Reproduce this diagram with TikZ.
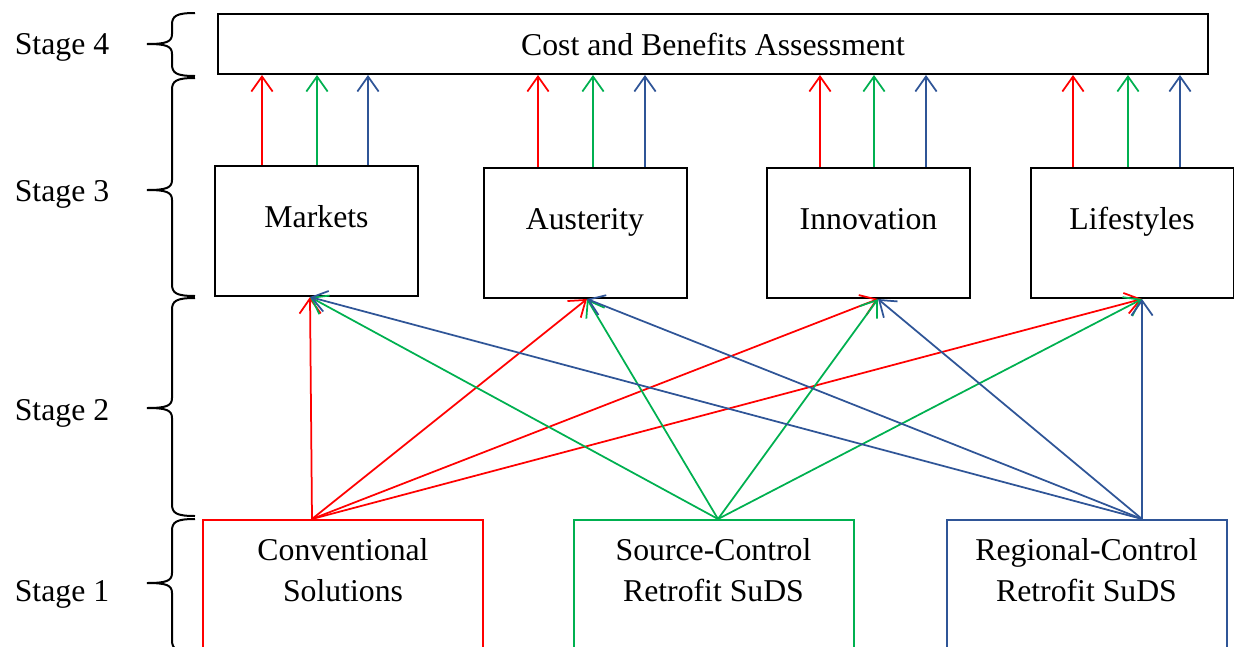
\documentclass[tikz,border=0pt]{standalone}
\usepackage{fontspec}
\setmainfont{Liberation Serif}
\usetikzlibrary{arrows.meta,positioning}

\definecolor{convred}{RGB}{255,0,0}
\definecolor{srcgreen}{RGB}{0,176,80}
\definecolor{regblue}{RGB}{47,85,151}

\tikzset{
  assessbox/.style={draw, line width=0.8pt, minimum width=396pt, minimum height=24pt},
  scenbox/.style={draw, line width=0.8pt, minimum width=81.2pt, minimum height=52pt,
    text height=8.5pt, text depth=11.3pt},
  solbox/.style={draw, line width=0.8pt, anchor=north, minimum width=112pt,
    align=center, inner ysep=7.3pt, text depth=60pt},
  flow/.style={line width=0.7pt, -{Straight Barb[length=6pt, width=8.5pt]}},
  stagebrace/.style={line width=0.8pt},
}

\begin{document}
\begin{tikzpicture}[x=0.4pt, y=-0.4pt, font=\fontsize{12.7pt}{16.4pt}\selectfont]

  \clip (0,0) rectangle (1234,647);

  % ── Stage 4: assessment ───────────────────────────────────────────────
  \node[assessbox] (assess) at (713,44) {Cost and Benefits Assessment};

  % ── Stage 3: scenarios ────────────────────────────────────────────────
  \node[scenbox] (markets)    at (316.5,231) {Markets};
  \node[scenbox] (austerity)  at (585,233)   {Austerity};
  \node[scenbox] (innovation) at (868.5,233) {Innovation};
  \node[scenbox] (lifestyles) at (1132,233)  {Lifestyles};

  % ── Stage 1: options ──────────────────────────────────────────────────
  \node[solbox, draw=convred]  (conv)     at (343,519)    {Conventional\\Solutions};
  \node[solbox, draw=srcgreen] (source)   at (713.5,519)  {Source-Control\\Retrofit SuDS};
  \node[solbox, draw=regblue]  (regional) at (1086.5,519) {Regional-Control\\Retrofit SuDS};

  % Arrow ends on the boxes
  \coordinate (conv-out) at (312,0 |- conv.north);
  \coordinate (src-out)  at (718,0 |- source.north);
  \coordinate (reg-out)  at (1142,0 |- regional.north);
  \coordinate (mk-in)  at (310,0 |- markets.south);
  \coordinate (aus-in) at (587,0 |- austerity.south);
  \coordinate (inn-in) at (878,0 |- innovation.south);
  \coordinate (lif-in) at (1142,0 |- lifestyles.south);

  % ── Stage 2: every option into every scenario ─────────────────────────
  \foreach \src/\col in {conv-out/convred, src-out/srcgreen, reg-out/regblue}
    \foreach \tgt in {mk-in, aus-in, inn-in, lif-in}
      \draw[flow, \col] (\src) -- (\tgt);

  % ── Scenarios up to assessment ────────────────────────────────────────
  \foreach \bx/\xr/\xg/\xb in {markets/262/317/368, austerity/538/593/645,
                               innovation/820/874/926, lifestyles/1073/1128/1180} {
    \draw[flow, convred]  (\xr,0 |- \bx.north) -- (\xr,0 |- assess.south);
    \draw[flow, srcgreen] (\xg,0 |- \bx.north) -- (\xg,0 |- assess.south);
    \draw[flow, regblue]  (\xb,0 |- \bx.north) -- (\xb,0 |- assess.south);
  }

  % ── Stage braces and labels (top / bottom / tip / label) ──────────────
  \foreach \ya/\yb/\ym/\yl/\sn in {13/76/44/47/4, 78/296/190/194/3,
                                   298/516/408/413/2, 519/652/583/594/1} {
    \draw[stagebrace] (195,\ya) .. controls (176,\ya) and (172,\ya+3) .. (172,\ya+12)
      -- (172,\ym-10) .. controls (172,\ym-2) and (166,\ym) .. (147,\ym)
      .. controls (166,\ym) and (172,\ym+2) .. (172,\ym+10)
      -- (172,\yb-12) .. controls (172,\yb-3) and (176,\yb) .. (195,\yb);
    \node (stage\sn) at (62,\yl) {Stage \sn};
  }

\end{tikzpicture}
\end{document}
